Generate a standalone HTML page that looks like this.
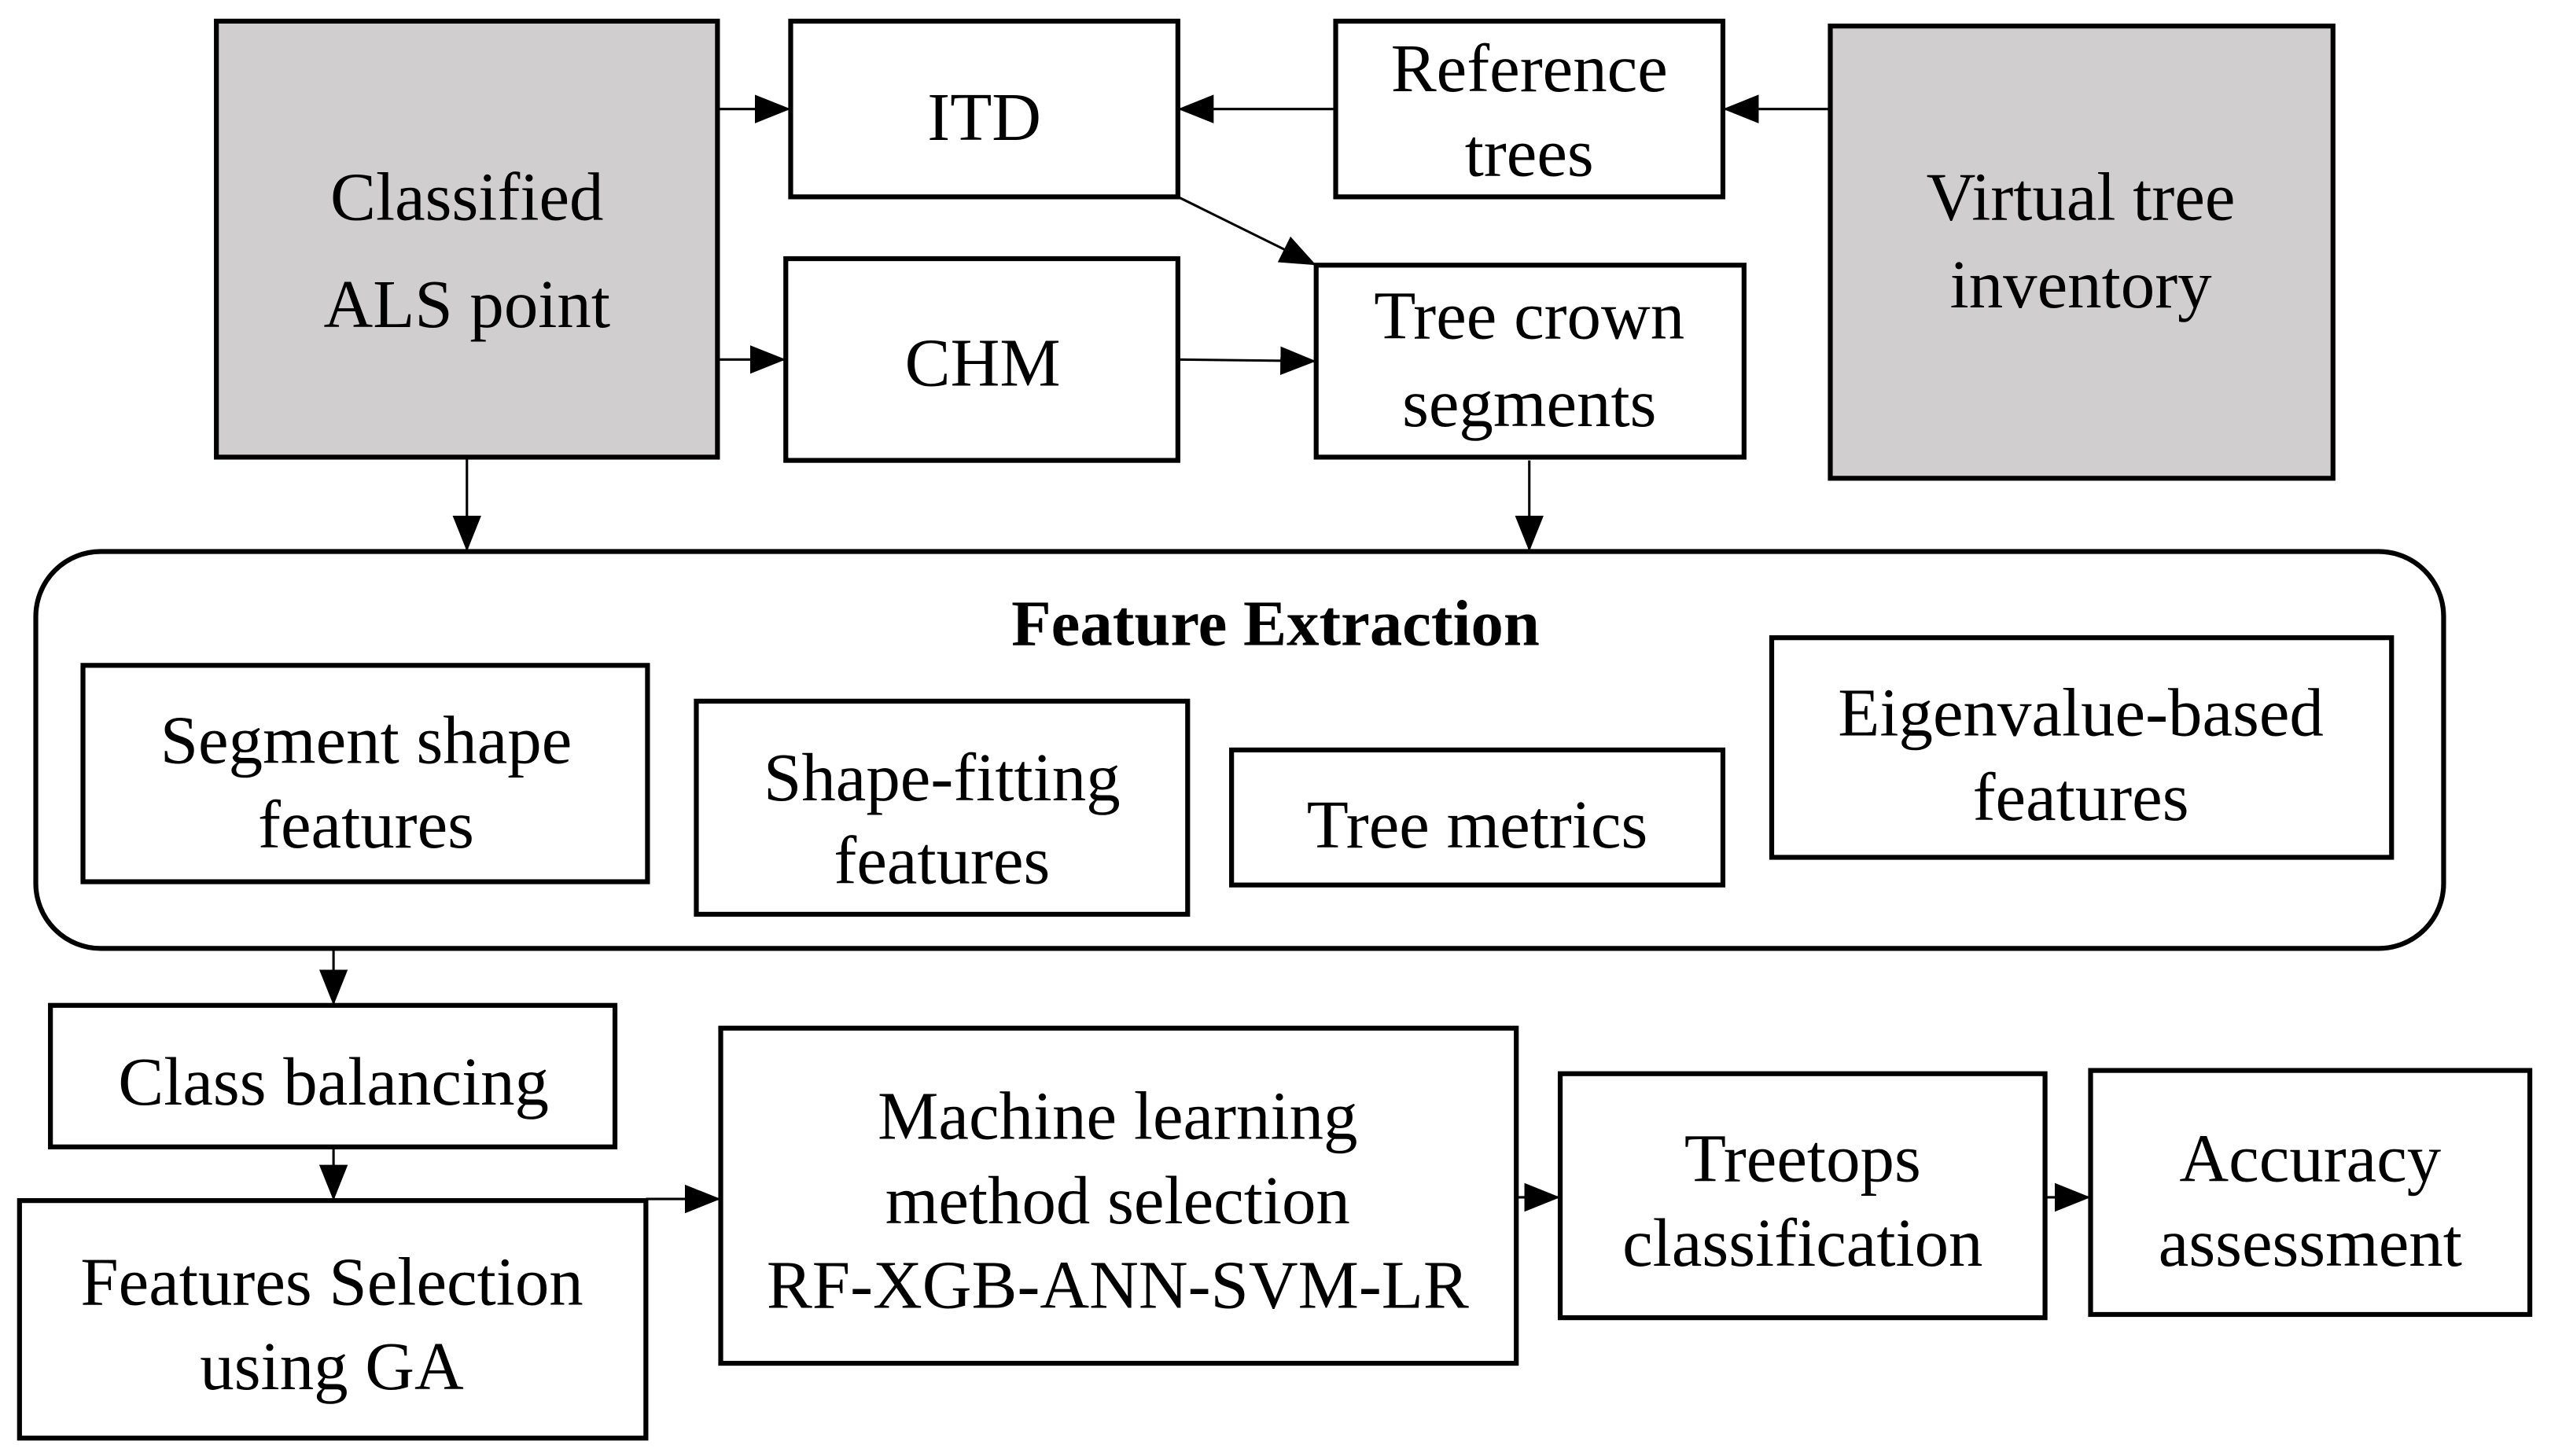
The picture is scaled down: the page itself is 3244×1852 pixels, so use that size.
<!DOCTYPE html>
<html><head><meta charset="utf-8"><style>html,body{margin:0;padding:0;background:#fff}svg{display:block}</style></head>
<body>
<svg width="3244" height="1852" viewBox="0 0 1568 895" preserveAspectRatio="none" xmlns="http://www.w3.org/2000/svg">
<defs>
<marker id="b" viewBox="0 0 10 10" refX="10" refY="5" markerWidth="22" markerHeight="22" orient="auto" markerUnits="userSpaceOnUse"><path d="M0,1 L10,5 L0,9 z" fill="#000"/></marker>
</defs>
<g fill="none" stroke="#000" stroke-width="3">
<rect x="133" y="13" width="308" height="268" fill="#d0cece"/>
<rect x="486" y="13" width="238" height="108"/>
<rect x="821" y="13" width="238" height="108"/>
<rect x="1125" y="16" width="309" height="278" fill="#d0cece"/>
<rect x="483" y="159" width="241" height="124"/>
<rect x="809" y="163" width="263" height="118"/>
<rect x="22" y="339" width="1480" height="244" rx="40" ry="40"/>
<rect x="51" y="409" width="347" height="133"/>
<rect x="428" y="431" width="302" height="131"/>
<rect x="757" y="461" width="302" height="83"/>
<rect x="1089" y="392" width="381" height="135"/>
<rect x="31" y="618" width="347" height="87"/>
<rect x="12" y="738" width="385" height="146"/>
<rect x="443" y="632" width="489" height="206"/>
<rect x="959" y="660" width="298" height="150"/>
<rect x="1285" y="658" width="270" height="150"/>
</g>
<g stroke="#000" stroke-width="1.5" fill="none">
<line x1="441" y1="67" x2="486" y2="67" marker-end="url(#b)"/>
<line x1="441" y1="221" x2="483" y2="221" marker-end="url(#b)"/>
<line x1="821" y1="67" x2="724" y2="67" marker-end="url(#b)"/>
<line x1="1125" y1="67" x2="1059" y2="67" marker-end="url(#b)"/>
<line x1="724" y1="121" x2="809" y2="163" marker-end="url(#b)"/>
<line x1="724" y1="221" x2="809" y2="222" marker-end="url(#b)"/>
<line x1="287" y1="282" x2="287" y2="339" marker-end="url(#b)"/>
<line x1="940" y1="283" x2="940" y2="339" marker-end="url(#b)"/>
<line x1="205" y1="584" x2="205" y2="618" marker-end="url(#b)"/>
<line x1="205" y1="706" x2="205" y2="738" marker-end="url(#b)"/>
<line x1="397" y1="737" x2="443" y2="737" marker-end="url(#b)"/>
<line x1="932" y1="736" x2="959" y2="736" marker-end="url(#b)"/>
<line x1="1257" y1="736" x2="1285" y2="736" marker-end="url(#b)"/>
</g>
<g font-family="'Liberation Serif', serif" font-size="42" text-anchor="middle" dominant-baseline="central" fill="#000">
<text x="287" y="121">Classified</text>
<text x="287" y="187">ALS point</text>
<text x="605" y="72">ITD</text>
<text x="940" y="42">Reference</text>
<text x="940" y="94">trees</text>
<text x="1279" y="121">Virtual tree</text>
<text x="1279" y="175">inventory</text>
<text x="604" y="223">CHM</text>
<text x="940" y="194">Tree crown</text>
<text x="940" y="248">segments</text>
<text x="784" y="383" font-weight="bold" font-size="40">Feature Extraction</text>
<text x="225" y="455">Segment shape</text>
<text x="225" y="507">features</text>
<text x="579" y="478">Shape-fitting</text>
<text x="579" y="529">features</text>
<text x="908" y="507">Tree metrics</text>
<text x="1279" y="438">Eigenvalue-based</text>
<text x="1279" y="490">features</text>
<text x="205" y="665">Class balancing</text>
<text x="204" y="788">Features Selection</text>
<text x="204" y="840">using GA</text>
<text x="687" y="686">Machine learning</text>
<text x="687" y="738">method selection</text>
<text x="687" y="790">RF-XGB-ANN-SVM-LR</text>
<text x="1108" y="712">Treetops</text>
<text x="1108" y="764">classification</text>
<text x="1420" y="712">Accuracy</text>
<text x="1420" y="764">assessment</text>
</g>
</svg>
</body></html>
